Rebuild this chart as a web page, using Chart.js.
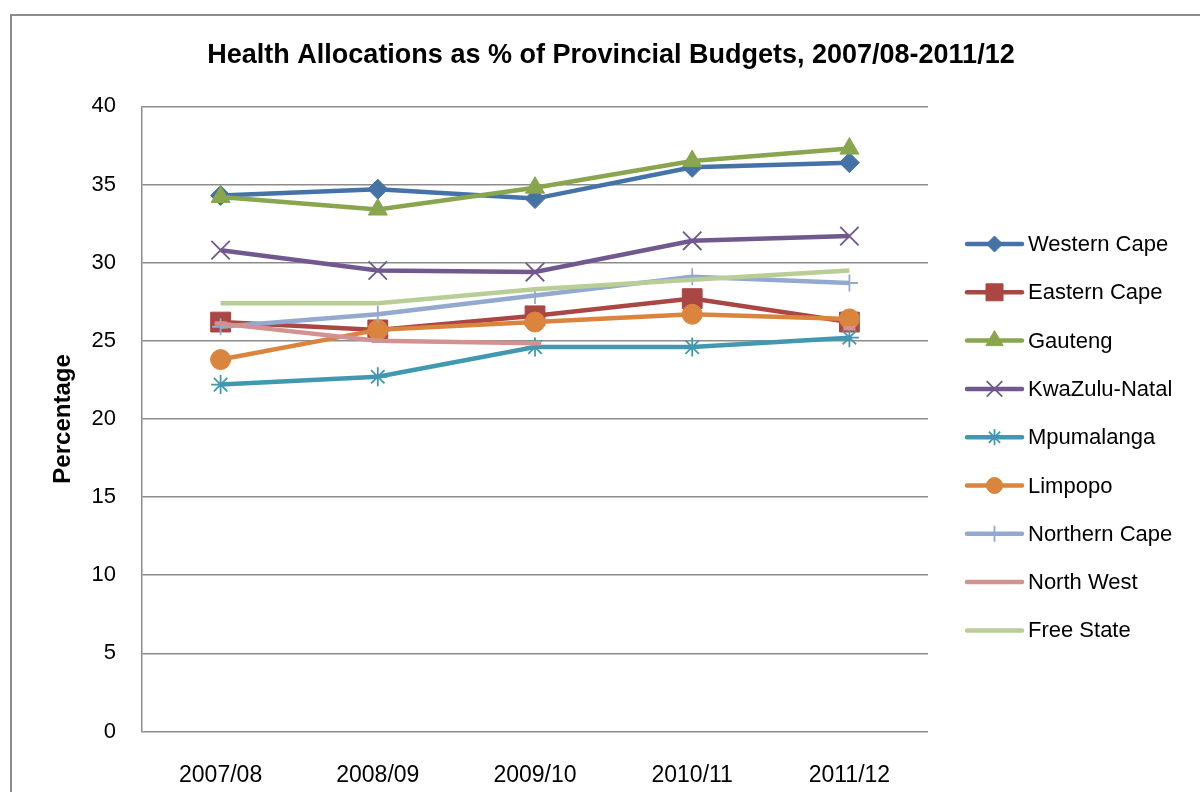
<!DOCTYPE html>
<html>
<head>
<meta charset="utf-8">
<script src="https://cdn.jsdelivr.net/npm/chart.js"></script>
<style>
    body { margin: 0; width: 1200px; height: 792px; overflow: hidden; background: #fff; }
    #frame { position: absolute; left: 10px; top: 14px; width: 1220px; height: 820px;
             border-left: 2px solid #8c8c8c; border-top: 2px solid #8c8c8c; }
    #chart { position: absolute; left: 10px; top: 14px; }
</style>
</head>
<body>
<div id="frame"></div>
<canvas id="chart" width="1202" height="778"></canvas>
<script>
labels = ['2007/08', '2008/09', '2009/10', '2010/11', '2011/12']
yTicks = [0, 5, 10, 15, 20, 25, 30, 35, 40]

// Health share of each provincial budget (%)
westernCape = [34.3, 34.7, 34.1, 36.1, 36.4]
easternCape = [26.2, 25.7, 26.6, 27.7, 26.2]
gauteng = [34.2, 33.4, 34.8, 36.5, 37.3]
kwazuluNatal = [30.8, 29.5, 29.4, 31.4, 31.7]
mpumalanga = [22.2, 22.7, 24.6, 24.6, 25.2]
limpopo = [23.8, 25.7, 26.2, 26.7, 26.4]
northernCape = [25.9, 26.7, 27.9, 29.1, 28.7]
northWest = [26.1, 25.0, 24.85, null, 25.8]
freeState = [27.4, 27.4, 28.3, 28.9, 29.5]

const FONT = "'Liberation Sans', Arial, sans-serif"
const GRID = '#8c8c8c'

const series = [
    { label: 'Western Cape', data: westernCape, color: '#4572A7', style: 'rectRot', r: 10, lr: 8 },
    { label: 'Eastern Cape', data: easternCape, color: '#AA4643', style: 'rect', r: 14, lr: 12 },
    { label: 'Gauteng', data: gauteng, color: '#89A54E', style: 'triangle', r: 11, lr: 10 },
    { label: 'KwaZulu-Natal', data: kwazuluNatal, color: '#71588F', style: 'crossRot', r: 13, lr: 11 },
    { label: 'Mpumalanga', data: mpumalanga, color: '#4198AF', style: 'star', r: 9.5, lr: 8 },
    { label: 'Limpopo', data: limpopo, color: '#DB843D', style: 'circle', r: 10, lr: 8 },
    { label: 'Northern Cape', data: northernCape, color: '#93A9CF', style: 'cross', r: 8.5, lr: 8 },
    { label: 'North West', data: northWest, color: '#D19392', style: 'line', r: 6, lr: 0 },
    { label: 'Free State', data: freeState, color: '#B9CD96', style: 'line', r: 0, lr: 0 }
]

const lineMarks = ['crossRot', 'star', 'cross', 'line']

// Excel-like legend: line + marker, drawn at the right
const sideLegend = {
    id: 'sideLegend',
    afterDraw(chart) {
        const ctx = chart.ctx
        const area = chart.chartArea
        const x0 = area.right + 39
        const x1 = x0 + 55
        const top = 230
        const step = 48.3
        ctx.save()
        series.forEach((s, i) => {
            const y = top + i * step
            ctx.strokeStyle = s.color
            ctx.fillStyle = s.color
            ctx.lineWidth = 4.5
            ctx.lineCap = 'round'
            ctx.beginPath()
            ctx.moveTo(x0, y)
            ctx.lineTo(x1, y)
            ctx.stroke()
            if (s.lr > 0 && s.style !== 'line') {
                ctx.lineWidth = lineMarks.includes(s.style) ? 1.8 : 1
                ctx.lineCap = 'butt'
                Chart.helpers.drawPoint(ctx, { pointStyle: s.style, radius: s.lr, borderWidth: ctx.lineWidth, rotation: 0 }, (x0 + x1) / 2, y)
            }
            ctx.fillStyle = '#000'
            ctx.font = '22px ' + FONT
            ctx.textBaseline = 'middle'
            ctx.textAlign = 'left'
            ctx.fillText(s.label, x1 + 6, y + 1)
        })
        ctx.restore()
    }
}

const ctx = document.getElementById('chart').getContext('2d')
new Chart(ctx, {
    type: 'line',
    data: {
        labels: labels,
        datasets: series.map((s, i) => ({
            label: s.label,
            data: s.data,
            order: series.length - i,
            borderColor: s.color,
            backgroundColor: s.color,
            borderWidth: 4.5,
            tension: 0,
            spanGaps: false,
            pointStyle: s.style,
            pointRadius: s.r,
            pointHoverRadius: s.r,
            pointBackgroundColor: s.color,
            pointBorderColor: s.color,
            pointBorderWidth: lineMarks.includes(s.style) ? (s.style === 'line' ? 4.5 : 1.8) : 1
        }))
    },
    options: {
        responsive: false,
        animation: false,
        layout: {
            padding: 0
        },
        scales: {
            x: {
                offset: true,
                grid: { display: false },
                border: { display: false },
                ticks: {
                    color: '#000',
                    padding: 22,
                    font: { family: FONT, size: 23 }
                },
                afterFit: (scale) => { scale.height = 60.5 }
            },
            y: {
                min: 0,
                max: 40,
                afterBuildTicks: (scale) => { scale.ticks = yTicks.map(v => ({ value: v })) },
                grid: { color: GRID, lineWidth: 1.5, drawTicks: false },
                border: { display: true, color: GRID, width: 1.5 },
                ticks: {
                    color: '#000',
                    padding: 26,
                    font: { family: FONT, size: 22 }
                },
                title: {
                    display: true,
                    text: 'Percentage',
                    color: '#000',
                    padding: { top: 39, bottom: 0 },
                    font: { family: FONT, size: 24, weight: 'bold' }
                },
                afterFit: (scale) => { scale.width = 132 }
            },
            // empty right-hand axis that keeps room for the legend
            legendSpace: {
                type: 'linear',
                position: 'right',
                grid: { display: false },
                border: { display: false },
                ticks: { display: false },
                afterFit: (scale) => { scale.width = 284 }
            }
        },
        plugins: {
            legend: { display: false },
            tooltip: { enabled: false },
            title: {
                display: true,
                text: 'Health Allocations as % of Provincial Budgets, 2007/08-2011/12',
                color: '#000',
                padding: { top: 25, bottom: 35 },
                font: { family: FONT, size: 27, weight: 'bold' }
            }
        }
    },
    plugins: [sideLegend]
});
</script>
</body>
</html>
